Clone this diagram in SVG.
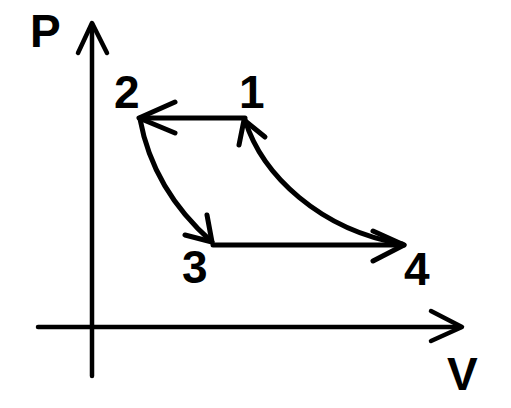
<svg xmlns="http://www.w3.org/2000/svg" width="511" height="408" viewBox="0 0 511 408">
<style>
.ln{fill:none;stroke:#000;stroke-width:5;stroke-linecap:round;stroke-linejoin:round}
.ax{fill:none;stroke:#000;stroke-width:4.5;stroke-linecap:round;stroke-linejoin:round}
.lb{font-family:"Liberation Sans",Arial,sans-serif;font-weight:bold;font-size:46px;fill:#000}
</style>
<rect width="511" height="408" fill="#fff"/>
<g id="axes">
<path class="ax" d="M92,24 V376"/>
<polyline class="ax" points="78,53 92,23 107,53"/>
<path class="ax" d="M38,327 H461"/>
<polyline class="ax" points="431,311 462,327 431,341"/>
<text class="lb" x="30" y="47">P</text>
<text class="lb" x="447" y="390">V</text>
</g>
<g id="node1"><text class="lb" x="239" y="108">1</text></g>
<g id="node2"><text class="lb" x="114" y="108">2</text></g>
<g id="node3"><text class="lb" x="182" y="283">3</text></g>
<g id="node4"><text class="lb" x="404" y="285">4</text></g>
<g id="connectors">
<path class="ln" d="M245,118 H140"/>
<polyline class="ln" points="175,102 139,118 175,133"/>
<path class="ln" d="M140,119 Q153,190 212,242"/>
<polyline class="ln" points="185,235 212,242 207,215"/>
<path class="ln" d="M213,245 H404"/>
<polyline class="ln" points="373,231 404,245 373,261"/>
<path class="ln" d="M245,120 C262,175 320,230 402,244"/>
<polyline class="ln" points="239,145 244,120 265,137"/>
</g>
</svg>
